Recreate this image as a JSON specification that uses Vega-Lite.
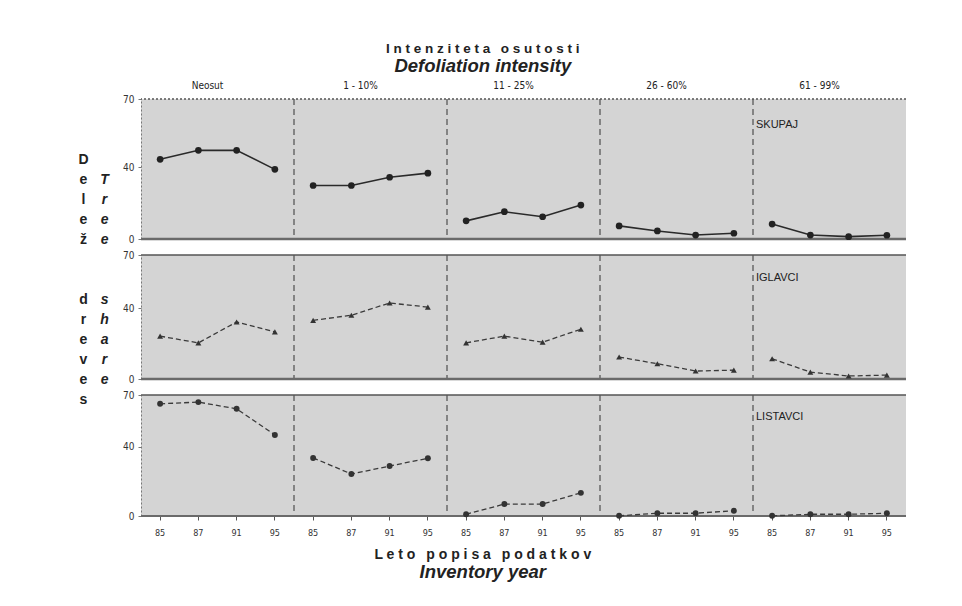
{
"$schema":"https://vega.github.io/schema/vega-lite/v6.json",
"padding":{"left":78,"top":42,"right":5,"bottom":5},
"datasets":{"d":[
{"g":"SKUPAJ","cat":"Neosut","year":"85","key":"Neosut 85","v":44.4},
{"g":"SKUPAJ","cat":"Neosut","year":"87","key":"Neosut 87","v":49.4},
{"g":"SKUPAJ","cat":"Neosut","year":"91","key":"Neosut 91","v":49.4},
{"g":"SKUPAJ","cat":"Neosut","year":"95","key":"Neosut 95","v":38.8},
{"g":"SKUPAJ","cat":"1 - 10%","year":"85","key":"1 - 10% 85","v":29.8},
{"g":"SKUPAJ","cat":"1 - 10%","year":"87","key":"1 - 10% 87","v":29.8},
{"g":"SKUPAJ","cat":"1 - 10%","year":"91","key":"1 - 10% 91","v":34.4},
{"g":"SKUPAJ","cat":"1 - 10%","year":"95","key":"1 - 10% 95","v":36.7},
{"g":"SKUPAJ","cat":"11 - 25%","year":"85","key":"11 - 25% 85","v":10.1},
{"g":"SKUPAJ","cat":"11 - 25%","year":"87","key":"11 - 25% 87","v":15.2},
{"g":"SKUPAJ","cat":"11 - 25%","year":"91","key":"11 - 25% 91","v":12.4},
{"g":"SKUPAJ","cat":"11 - 25%","year":"95","key":"11 - 25% 95","v":18.9},
{"g":"SKUPAJ","cat":"26 - 60%","year":"85","key":"26 - 60% 85","v":7.3},
{"g":"SKUPAJ","cat":"26 - 60%","year":"87","key":"26 - 60% 87","v":4.5},
{"g":"SKUPAJ","cat":"26 - 60%","year":"91","key":"26 - 60% 91","v":2.2},
{"g":"SKUPAJ","cat":"26 - 60%","year":"95","key":"26 - 60% 95","v":3.2},
{"g":"SKUPAJ","cat":"61 - 99%","year":"85","key":"61 - 99% 85","v":8.3},
{"g":"SKUPAJ","cat":"61 - 99%","year":"87","key":"61 - 99% 87","v":2.2},
{"g":"SKUPAJ","cat":"61 - 99%","year":"91","key":"61 - 99% 91","v":1.3},
{"g":"SKUPAJ","cat":"61 - 99%","year":"95","key":"61 - 99% 95","v":2.1},
{"g":"IGLAVCI","cat":"Neosut","year":"85","key":"Neosut 85","v":24.2},
{"g":"IGLAVCI","cat":"Neosut","year":"87","key":"Neosut 87","v":20.4},
{"g":"IGLAVCI","cat":"Neosut","year":"91","key":"Neosut 91","v":32.2},
{"g":"IGLAVCI","cat":"Neosut","year":"95","key":"Neosut 95","v":26.6},
{"g":"IGLAVCI","cat":"1 - 10%","year":"85","key":"1 - 10% 85","v":33.1},
{"g":"IGLAVCI","cat":"1 - 10%","year":"87","key":"1 - 10% 87","v":36.0},
{"g":"IGLAVCI","cat":"1 - 10%","year":"91","key":"1 - 10% 91","v":42.9},
{"g":"IGLAVCI","cat":"1 - 10%","year":"95","key":"1 - 10% 95","v":40.6},
{"g":"IGLAVCI","cat":"11 - 25%","year":"85","key":"11 - 25% 85","v":20.4},
{"g":"IGLAVCI","cat":"11 - 25%","year":"87","key":"11 - 25% 87","v":24.2},
{"g":"IGLAVCI","cat":"11 - 25%","year":"91","key":"11 - 25% 91","v":20.8},
{"g":"IGLAVCI","cat":"11 - 25%","year":"95","key":"11 - 25% 95","v":28.1},
{"g":"IGLAVCI","cat":"26 - 60%","year":"85","key":"26 - 60% 85","v":12.4},
{"g":"IGLAVCI","cat":"26 - 60%","year":"87","key":"26 - 60% 87","v":8.6},
{"g":"IGLAVCI","cat":"26 - 60%","year":"91","key":"26 - 60% 91","v":4.5},
{"g":"IGLAVCI","cat":"26 - 60%","year":"95","key":"26 - 60% 95","v":5.0},
{"g":"IGLAVCI","cat":"61 - 99%","year":"85","key":"61 - 99% 85","v":11.4},
{"g":"IGLAVCI","cat":"61 - 99%","year":"87","key":"61 - 99% 87","v":3.9},
{"g":"IGLAVCI","cat":"61 - 99%","year":"91","key":"61 - 99% 91","v":1.7},
{"g":"IGLAVCI","cat":"61 - 99%","year":"95","key":"61 - 99% 95","v":2.2},
{"g":"LISTAVCI","cat":"Neosut","year":"85","key":"Neosut 85","v":64.9},
{"g":"LISTAVCI","cat":"Neosut","year":"87","key":"Neosut 87","v":65.9},
{"g":"LISTAVCI","cat":"Neosut","year":"91","key":"Neosut 91","v":62.0},
{"g":"LISTAVCI","cat":"Neosut","year":"95","key":"Neosut 95","v":46.9},
{"g":"LISTAVCI","cat":"1 - 10%","year":"85","key":"1 - 10% 85","v":33.6},
{"g":"LISTAVCI","cat":"1 - 10%","year":"87","key":"1 - 10% 87","v":24.3},
{"g":"LISTAVCI","cat":"1 - 10%","year":"91","key":"1 - 10% 91","v":28.9},
{"g":"LISTAVCI","cat":"1 - 10%","year":"95","key":"1 - 10% 95","v":33.4},
{"g":"LISTAVCI","cat":"11 - 25%","year":"85","key":"11 - 25% 85","v":1.0},
{"g":"LISTAVCI","cat":"11 - 25%","year":"87","key":"11 - 25% 87","v":6.9},
{"g":"LISTAVCI","cat":"11 - 25%","year":"91","key":"11 - 25% 91","v":6.9},
{"g":"LISTAVCI","cat":"11 - 25%","year":"95","key":"11 - 25% 95","v":13.4},
{"g":"LISTAVCI","cat":"26 - 60%","year":"85","key":"26 - 60% 85","v":0.1},
{"g":"LISTAVCI","cat":"26 - 60%","year":"87","key":"26 - 60% 87","v":1.6},
{"g":"LISTAVCI","cat":"26 - 60%","year":"91","key":"26 - 60% 91","v":1.6},
{"g":"LISTAVCI","cat":"26 - 60%","year":"95","key":"26 - 60% 95","v":3.0},
{"g":"LISTAVCI","cat":"61 - 99%","year":"85","key":"61 - 99% 85","v":0.1},
{"g":"LISTAVCI","cat":"61 - 99%","year":"87","key":"61 - 99% 87","v":1.0},
{"g":"LISTAVCI","cat":"61 - 99%","year":"91","key":"61 - 99% 91","v":1.0},
{"g":"LISTAVCI","cat":"61 - 99%","year":"95","key":"61 - 99% 95","v":1.6}
]},
"data":{"name":"d"},
"title":{"text":"I n t e n z i t e t a \u2002o s u t o s t i","subtitle":"Defoliation intensity","anchor":"middle","frame":"bounds","dx":-10,"font":"Liberation Sans","fontSize":13.5,"fontWeight":"bold","color":"#222","subtitleFont":"Liberation Sans","subtitleFontSize":18.5,"subtitleFontWeight":"bold","subtitleFontStyle":"italic","subtitleColor":"#222","subtitlePadding":1,"offset":6},
"vconcat":[{
 "title":{"text":"L e t o \u2002p o p i s a \u2002p o d a t k o v","subtitle":"Inventory year","orient":"bottom","anchor":"middle","frame":"bounds","dx":-10,"font":"Liberation Sans","fontSize":14,"fontWeight":"bold","color":"#222","subtitleFont":"Liberation Sans","subtitleFontSize":18.5,"subtitleFontWeight":"bold","subtitleFontStyle":"italic","subtitleColor":"#222","subtitlePadding":1,"offset":11},
 "vconcat":[{
  "title":{"text":["D","e","l","e","ž","\u2800","\u2800","d","r","e","v","e","s"],"orient":"left","angle":0,"anchor":"middle","align":"center","baseline":"middle","font":"Liberation Sans","fontSize":14,"fontWeight":"bold","color":"#222","lineHeight":20,"offset":6,"dy":-149},
  "vconcat":[{
   "title":{"text":["T","r","e","e","\u2800","\u2800","s","h","a","r","e"],"orient":"left","angle":0,"anchor":"middle","align":"center","baseline":"middle","font":"Liberation Sans","fontSize":14,"fontWeight":"bold","fontStyle":"italic","color":"#222","lineHeight":20,"offset":8,"dy":-129},
   "spacing":6,
   "vconcat":[
    {"width":765,"height":140,
     "transform":[{"filter":"datum.g == 'SKUPAJ'"}],
     "layer":[
      {"transform":[{"filter":"datum.year == '85' && datum.cat != 'Neosut'"}],
       "mark":{"type":"rule","color":"#333","strokeWidth":1,"strokeDash":[6,4]},
       "encoding":{"x":{"field":"key","type":"nominal","bandPosition":0,"scale":{"type":"band","domain":["Neosut 85","Neosut 87","Neosut 91","Neosut 95","1 - 10% 85","1 - 10% 87","1 - 10% 91","1 - 10% 95","11 - 25% 85","11 - 25% 87","11 - 25% 91","11 - 25% 95","26 - 60% 85","26 - 60% 87","26 - 60% 91","26 - 60% 95","61 - 99% 85","61 - 99% 87","61 - 99% 91","61 - 99% 95"],"paddingInner":0,"paddingOuter":0},"axis":null}}},
      {"transform":[{"filter":"datum.key == 'Neosut 85'"}],
       "mark":{"type":"rule","color":"#6a6a6a","strokeWidth":2.5},
       "encoding":{"y":{"datum":0,"scale":{"domain":[0,78],"nice":false},"axis":{"values":[0,40,78],"labelExpr":"datum.value == 78 ? '70' : datum.label","title":null,"grid":false,"labelFont":"DejaVu Sans Condensed, Liberation Sans, sans-serif","labelFontSize":10,"labelColor":"#333","domainColor":"#777","domainDash":[2,2],"tickColor":"#777","tickSize":3,"labelPadding":4}}}},
      {"transform":[{"filter":"datum.key == 'Neosut 85'"}],
       "mark":{"type":"rule","color":"#555","strokeWidth":1.5,"strokeDash":[2,2]},
       "encoding":{"y":{"datum":78}}},
      {"mark":{"type":"line","color":"#2a2a2a","strokeWidth":1.6},
       "encoding":{"x":{"field":"key","type":"nominal","scale":{"type":"band","domain":["Neosut 85","Neosut 87","Neosut 91","Neosut 95","1 - 10% 85","1 - 10% 87","1 - 10% 91","1 - 10% 95","11 - 25% 85","11 - 25% 87","11 - 25% 91","11 - 25% 95","26 - 60% 85","26 - 60% 87","26 - 60% 91","26 - 60% 95","61 - 99% 85","61 - 99% 87","61 - 99% 91","61 - 99% 95"],"paddingInner":0,"paddingOuter":0},"axis":null},
        "y":{"field":"v","type":"quantitative","scale":{"domain":[0,78],"nice":false},"axis":{"values":[0,40,78],"labelExpr":"datum.value == 78 ? '70' : datum.label","title":null,"grid":false,"labelFont":"DejaVu Sans Condensed, Liberation Sans, sans-serif","labelFontSize":10,"labelColor":"#333","domainColor":"#777","domainDash":[2,2],"tickColor":"#777","tickSize":3,"labelPadding":4}},
        "detail":{"field":"cat"}}},
      {"mark":{"type":"point","filled":true,"shape":"circle","size":45,"color":"#222","opacity":1},
       "encoding":{"x":{"field":"key","type":"nominal","axis":null},
        "y":{"field":"v","type":"quantitative"}}},
      {"transform":[{"filter":"datum.key == '61 - 99% 85'"}],
       "mark":{"type":"text","align":"left","baseline":"middle","dx":3,"font":"Liberation Sans","fontSize":11,"color":"#222"},
       "encoding":{"x":{"field":"key","type":"nominal","bandPosition":0,"axis":null},
        "y":{"datum":63.5},
        "text":{"field":"g"}}},
      {"transform":[{"filter":"datum.year == '91'"}],
       "mark":{"type":"text","align":"center","baseline":"bottom","dy":-8,"dx":-10,"font":"DejaVu Sans Condensed, Liberation Sans, sans-serif","fontSize":10,"color":"#222"},
       "encoding":{"x":{"field":"key","type":"nominal","bandPosition":0,"axis":null},
        "y":{"datum":78},
        "text":{"field":"cat"}}}
     ]},
    {"width":765,"height":124,
     "transform":[{"filter":"datum.g == 'IGLAVCI'"}],
     "layer":[
      {"transform":[{"filter":"datum.year == '85' && datum.cat != 'Neosut'"}],
       "mark":{"type":"rule","color":"#333","strokeWidth":1,"strokeDash":[6,4]},
       "encoding":{"x":{"field":"key","type":"nominal","bandPosition":0,"scale":{"type":"band","domain":["Neosut 85","Neosut 87","Neosut 91","Neosut 95","1 - 10% 85","1 - 10% 87","1 - 10% 91","1 - 10% 95","11 - 25% 85","11 - 25% 87","11 - 25% 91","11 - 25% 95","26 - 60% 85","26 - 60% 87","26 - 60% 91","26 - 60% 95","61 - 99% 85","61 - 99% 87","61 - 99% 91","61 - 99% 95"],"paddingInner":0,"paddingOuter":0},"axis":null}}},
      {"transform":[{"filter":"datum.key == 'Neosut 85'"}],
       "mark":{"type":"rule","color":"#6a6a6a","strokeWidth":2.5},
       "encoding":{"y":{"datum":0,"scale":{"domain":[0,70],"nice":false},"axis":{"values":[0,40,70],"title":null,"grid":false,"labelFont":"DejaVu Sans Condensed, Liberation Sans, sans-serif","labelFontSize":10,"labelColor":"#333","domainColor":"#777","domainDash":[2,2],"tickColor":"#777","tickSize":3,"labelPadding":4}}}},
      {"transform":[{"filter":"datum.key == 'Neosut 85'"}],
       "mark":{"type":"rule","color":"#555","strokeWidth":1.5},
       "encoding":{"y":{"datum":70}}},
      {"mark":{"type":"line","color":"#3a3a3a","strokeWidth":1.3,"strokeDash":[5,3]},
       "encoding":{"x":{"field":"key","type":"nominal","scale":{"type":"band","domain":["Neosut 85","Neosut 87","Neosut 91","Neosut 95","1 - 10% 85","1 - 10% 87","1 - 10% 91","1 - 10% 95","11 - 25% 85","11 - 25% 87","11 - 25% 91","11 - 25% 95","26 - 60% 85","26 - 60% 87","26 - 60% 91","26 - 60% 95","61 - 99% 85","61 - 99% 87","61 - 99% 91","61 - 99% 95"],"paddingInner":0,"paddingOuter":0},"axis":null},
        "y":{"field":"v","type":"quantitative","scale":{"domain":[0,70],"nice":false},"axis":{"values":[0,40,70],"title":null,"grid":false,"labelFont":"DejaVu Sans Condensed, Liberation Sans, sans-serif","labelFontSize":10,"labelColor":"#333","domainColor":"#777","domainDash":[2,2],"tickColor":"#777","tickSize":3,"labelPadding":4}},
        "detail":{"field":"cat"}}},
      {"mark":{"type":"point","filled":true,"shape":"triangle-up","size":35,"color":"#333","opacity":1},
       "encoding":{"x":{"field":"key","type":"nominal","axis":null},
        "y":{"field":"v","type":"quantitative"}}},
      {"transform":[{"filter":"datum.key == '61 - 99% 85'"}],
       "mark":{"type":"text","align":"left","baseline":"middle","dx":3,"font":"Liberation Sans","fontSize":11,"color":"#222"},
       "encoding":{"x":{"field":"key","type":"nominal","bandPosition":0,"axis":null},
        "y":{"datum":57},
        "text":{"field":"g"}}}
     ]},
    {"width":765,"height":121,
     "transform":[{"filter":"datum.g == 'LISTAVCI'"}],
     "layer":[
      {"transform":[{"filter":"datum.year == '85' && datum.cat != 'Neosut'"}],
       "mark":{"type":"rule","color":"#333","strokeWidth":1,"strokeDash":[6,4]},
       "encoding":{"x":{"field":"key","type":"nominal","bandPosition":0,"scale":{"type":"band","domain":["Neosut 85","Neosut 87","Neosut 91","Neosut 95","1 - 10% 85","1 - 10% 87","1 - 10% 91","1 - 10% 95","11 - 25% 85","11 - 25% 87","11 - 25% 91","11 - 25% 95","26 - 60% 85","26 - 60% 87","26 - 60% 91","26 - 60% 95","61 - 99% 85","61 - 99% 87","61 - 99% 91","61 - 99% 95"],"paddingInner":0,"paddingOuter":0},"axis":{"title":null,"labelExpr":"slice(datum.label, -2)","labelAngle":0,"labelFont":"DejaVu Sans Condensed, Liberation Sans, sans-serif","labelFontSize":9,"labelColor":"#333","domain":false,"ticks":true,"tickColor":"#555","tickSize":4,"labelPadding":8}}}},
      {"transform":[{"filter":"datum.key == 'Neosut 85'"}],
       "mark":{"type":"rule","color":"#6a6a6a","strokeWidth":2},
       "encoding":{"y":{"datum":0,"scale":{"domain":[0,70],"nice":false},"axis":{"values":[0,40,70],"title":null,"grid":false,"labelFont":"DejaVu Sans Condensed, Liberation Sans, sans-serif","labelFontSize":10,"labelColor":"#333","domainColor":"#777","domainDash":[2,2],"tickColor":"#777","tickSize":3,"labelPadding":4}}}},
      {"transform":[{"filter":"datum.key == 'Neosut 85'"}],
       "mark":{"type":"rule","color":"#555","strokeWidth":1.5},
       "encoding":{"y":{"datum":70}}},
      {"mark":{"type":"line","color":"#3a3a3a","strokeWidth":1.3,"strokeDash":[5,3]},
       "encoding":{"x":{"field":"key","type":"nominal","scale":{"type":"band","domain":["Neosut 85","Neosut 87","Neosut 91","Neosut 95","1 - 10% 85","1 - 10% 87","1 - 10% 91","1 - 10% 95","11 - 25% 85","11 - 25% 87","11 - 25% 91","11 - 25% 95","26 - 60% 85","26 - 60% 87","26 - 60% 91","26 - 60% 95","61 - 99% 85","61 - 99% 87","61 - 99% 91","61 - 99% 95"],"paddingInner":0,"paddingOuter":0},"axis":{"title":null,"labelExpr":"slice(datum.label, -2)","labelAngle":0,"labelFont":"DejaVu Sans Condensed, Liberation Sans, sans-serif","labelFontSize":9,"labelColor":"#333","domain":false,"ticks":true,"tickColor":"#555","tickSize":4,"labelPadding":8}},
        "y":{"field":"v","type":"quantitative","scale":{"domain":[0,70],"nice":false},"axis":{"values":[0,40,70],"title":null,"grid":false,"labelFont":"DejaVu Sans Condensed, Liberation Sans, sans-serif","labelFontSize":10,"labelColor":"#333","domainColor":"#777","domainDash":[2,2],"tickColor":"#777","tickSize":3,"labelPadding":4}},
        "detail":{"field":"cat"}}},
      {"mark":{"type":"point","filled":true,"shape":"circle","size":35,"color":"#333","opacity":1},
       "encoding":{"x":{"field":"key","type":"nominal"},
        "y":{"field":"v","type":"quantitative"}}},
      {"transform":[{"filter":"datum.key == '61 - 99% 85'"}],
       "mark":{"type":"text","align":"left","baseline":"middle","dx":3,"font":"Liberation Sans","fontSize":11,"color":"#222"},
       "encoding":{"x":{"field":"key","type":"nominal","bandPosition":0},
        "y":{"datum":57},
        "text":{"field":"g"}}}
     ]}
   ]
  }]
 }]
}],
"config":{"view":{"stroke":null,"fill":"#d4d4d4"},"font":"Liberation Sans"}
}
